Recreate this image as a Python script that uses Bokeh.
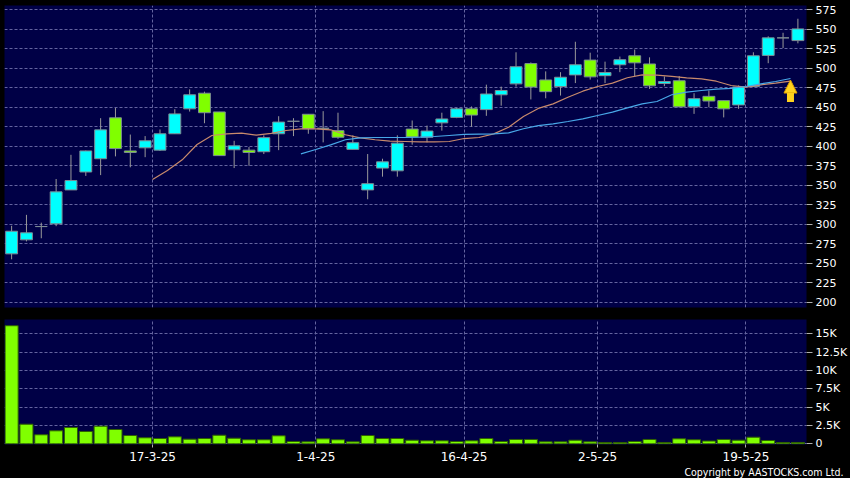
import numpy as np
from bokeh.plotting import figure
from bokeh.layouts import column
from bokeh.models import ColumnDataSource, FixedTicker, Title, Arrow, NormalHead, Range1d
from bokeh.embed import file_html
from bokeh.resources import INLINE

# ---------------- data ----------------
opens = [262, 280, 297, 300.5, 344, 367, 384, 436.5, 394, 398,
         395, 416, 448, 468, 444, 395.5, 395, 393, 416, 432,
         441, 423, 420, 396, 344, 372, 368.5, 422, 411.5, 430,
         437, 448, 447, 466, 480, 506, 485, 476.5, 491.5, 510.5,
         490.5, 504.5, 516, 505.5, 480.5, 484, 450.5, 464, 458.5, 453,
         476.5, 516.5, 539, 535.5]
highs = [298, 312, 302, 358, 389, 394.5, 436, 449, 415, 413,
         421.5, 447.5, 473, 470, 444, 407, 399, 414, 438.5, 436,
         441, 445, 443, 414, 390, 384, 414, 433, 426.5, 443,
         449, 451, 479, 476.5, 520.5, 507.5, 496, 495, 534, 520,
         508.5, 515, 524, 514, 489.5, 490, 468, 471.5, 458.5, 478,
         520.5, 541, 545.5, 563.5]
lows = [255, 278, 282, 297.5, 344, 362, 363, 387, 373, 386,
        394, 416, 444.5, 429.5, 388, 372, 375, 390, 395, 413,
        416, 405, 409.5, 396, 332, 361, 361, 402, 405, 420,
        436, 425, 439, 452, 476.5, 460, 461.5, 465, 481, 485.5,
        481, 495, 489.5, 473.5, 477, 450.5, 441.5, 450, 437, 448,
        476.5, 506.5, 526, 532]
closes = [291, 289, 297, 341.5, 356, 394, 421, 397, 392, 407,
          416, 441.5, 466, 443, 388, 400.5, 392, 411, 431, 432,
          422.5, 423, 411.5, 404.5, 352, 380, 404, 412, 419.5, 435,
          448, 440, 467, 471.5, 502, 476, 470, 488.5, 504.5, 489,
          494.5, 511, 507, 477.5, 483, 450.5, 461, 458, 448, 476,
          516, 539, 539, 550.5]
volumes = [16100, 2670, 1230, 1770, 2220, 1680, 2400, 1950, 1130, 820,
           720, 950, 630, 720, 1170, 760, 550, 550, 1090, 310,
           270, 680, 550, 270, 1130, 720, 720, 490, 410, 410,
           310, 410, 720, 310, 590, 590, 270, 270, 490, 270,
           180, 180, 310, 590, 180, 680, 550, 380, 590, 490,
           900, 450, 180, 180]
# 10-day average (starts at candle 10) and 20-day average (starts at candle 20)
ma10_start = 10
ma10 = [357.4, 368.9, 382.6, 402.2, 413.8, 415.9, 416.8, 414.2, 416.5, 420.2,
        422.4, 422.4, 421.1, 414.7, 410.8, 408.3, 406.5, 406.1, 405.7, 405.7,
        406.1, 409.9, 411.2, 415.9, 424.4, 438.2, 448.5, 454.4, 462.9, 470.6,
        476.6, 480.9, 487.8, 491.6, 491.3, 489.5, 487.8, 486.5, 483.4, 477.9,
        475.7, 478.8, 480.9, 483.4]
ma20_start = 20
ma20 = [390.3, 395.8, 401.8, 408.3, 410.8, 411.2, 411.2, 411.2, 411.6, 412.5,
        413.8, 415.1, 415.5, 415.9, 417.2, 422.4, 426.5, 428.8, 431.7, 435.2,
        439.4, 443.7, 449.3, 454.4, 457.4, 466.0, 469.4, 471.5, 473.2, 474.1,
        476.6, 480.1, 483.0, 486.9]
date_tick_index = [10, 21, 31, 40, 50]
date_tick_labels = ["17-3-25", "1-4-25", "16-4-25", "2-5-25", "19-5-25"]
price_ticks = [200, 225, 250, 275, 300, 325, 350, 375, 400, 425, 450, 475, 500, 525, 550, 575]
vol_ticks = [0, 2500, 5000, 7500, 10000, 12500, 15000]
vol_tick_labels = ["0", "2.5K", "5K", "7.5K", "10K", "12.5K", "15K"]
copyright_text = "Copyright by AASTOCKS.com Ltd."

# ---------------- styles ----------------
BG = "#000046"
GRID = "#6464a0"
UP = "#00ffff"
DOWN = "#80ff00"
DOJI = "#9a9a9a"
BORDER = "#7d8c94"
WICK = "#9a9a9a"
ORANGE = "#c88a6c"
BLUE = "#48a8e8"
GOLD = "#ffd21e"
FONT = "DejaVu Sans"

n = len(opens)
idx = np.arange(n)
o = np.array(opens, dtype=float)
c = np.array(closes, dtype=float)
colors = np.where(c > o, UP, np.where(c < o, DOWN, DOJI))
src = ColumnDataSource(dict(x=idx, h=highs, l=lows, top=np.maximum(o, c),
                            bottom=np.minimum(o, c), color=colors))
x_ticks = [t - 0.5 for t in date_tick_index]
x_range = Range1d(-0.48, 53.58)

# ---------------- price panel ----------------
p = figure(width=850, height=312, x_range=x_range, y_range=Range1d(193.2, 580.5),
           output_backend="svg", toolbar_location=None,
           y_axis_location="right", x_axis_location=None,
           background_fill_color=BG, border_fill_color="black", outline_line_color=None,
           min_border_left=4, min_border_right=42, min_border_top=5, min_border_bottom=5)
p.yaxis.ticker = FixedTicker(ticks=price_ticks)
p.xgrid.ticker = FixedTicker(ticks=x_ticks)
for g in (p.xgrid, p.ygrid):
    g.grid_line_color = GRID
    g.grid_line_dash = "3 2"

p.segment(x0="x", y0="h", x1="x", y1="l", source=src, line_color=WICK, line_width=1)
p.vbar(x="x", width=0.8, top="top", bottom="bottom", fill_color="color",
       line_color=BORDER, line_width=1, source=src)

ma10_x = np.arange(ma10_start, ma10_start + len(ma10)) - 0.5
ma20_x = np.arange(ma20_start, ma20_start + len(ma20)) - 0.5
p.line(ma10_x, ma10, line_color=ORANGE, line_width=1.2)
p.line(ma20_x, ma20, line_color=BLUE, line_width=1.2)

# buy-signal arrow under the end of the averages
ax = ma20_x[-1]
p.add_layout(Arrow(end=NormalHead(size=13, fill_color=GOLD, line_color="#e0a000", line_width=1),
                   x_start=ax, y_start=ma20[-1] - 30, x_end=ax, y_end=ma20[-1] - 2,
                   line_color=GOLD, line_width=7))

# ---------------- volume panel ----------------
v = figure(width=850, height=166, x_range=x_range, y_range=Range1d(-95, 16950),
           output_backend="svg", toolbar_location=None,
           y_axis_location="right",
           background_fill_color=BG, border_fill_color="black", outline_line_color=None,
           min_border_left=4, min_border_right=42, min_border_top=7, min_border_bottom=34)
v.yaxis.ticker = FixedTicker(ticks=vol_ticks)
v.yaxis.major_label_overrides = {t: s for t, s in zip(vol_ticks, vol_tick_labels)}
v.xaxis.ticker = FixedTicker(ticks=x_ticks)
v.xaxis.major_label_overrides = {t: s for t, s in zip(x_ticks, date_tick_labels)}
for g in (v.xgrid, v.ygrid):
    g.grid_line_color = GRID
    g.grid_line_dash = "3 2"
v.vbar(x=idx, top=volumes, bottom=0, width=0.88, fill_color=DOWN, line_color="#2f6000", line_width=1)

for axis in (p.yaxis[0], v.yaxis[0], v.xaxis[0]):
    axis.axis_line_color = None
    axis.major_tick_line_color = "#b0b0b0"
    axis.minor_tick_line_color = None
    axis.major_label_text_color = "white"
    axis.major_label_text_font = FONT
    axis.major_tick_in = 0
for axis in (p.yaxis[0], v.yaxis[0]):
    axis.major_tick_out = 6
    axis.major_label_standoff = 3
    axis.major_label_text_font_size = "11px"
v.xaxis.major_tick_out = 3
v.xaxis.major_label_standoff = 4
v.xaxis.major_label_text_font_size = "12px"

v.add_layout(Title(text=copyright_text, align="right", offset=-37, standoff=0,
                   text_color="white", text_font="DejaVu Sans Condensed",
                   text_font_size="10.5px", text_font_style="normal"), "below")

layout = column(p, v, spacing=0)
html = file_html(layout, INLINE, title="chart")
html = html.replace("<head>", "<head><style>html,body{margin:0;padding:0;background:#000;overflow:hidden}</style>", 1)
open("out.html", "w").write(html)
